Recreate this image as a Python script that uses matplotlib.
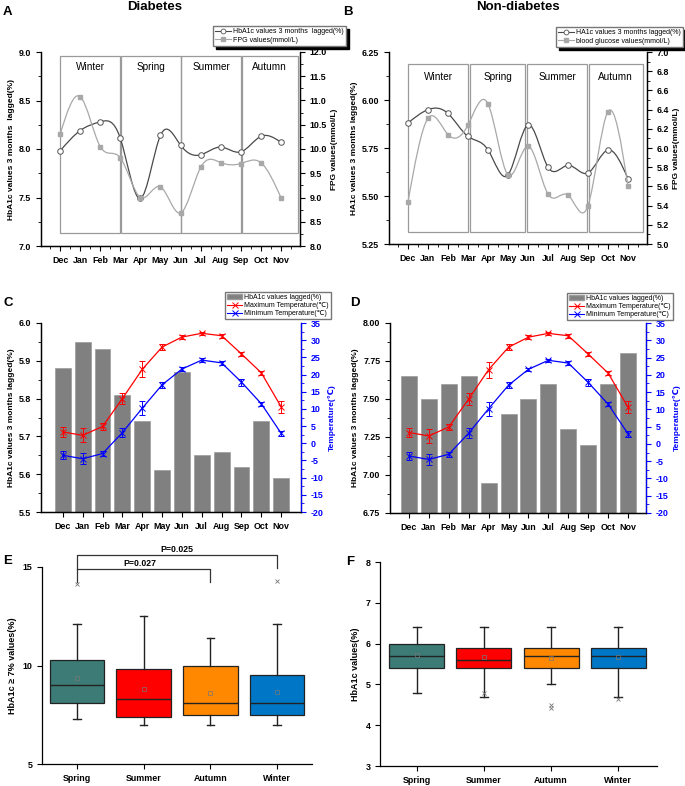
import numpy as np
import matplotlib
matplotlib.use("Agg")
import matplotlib.pyplot as plt
from matplotlib.path import Path
from matplotlib.patches import PathPatch, Rectangle, Patch
from matplotlib.lines import Line2D
from matplotlib.ticker import MultipleLocator

plt.rcParams['font.family'] = ['Liberation Sans', 'DejaVu Sans']
plt.rcParams['axes.linewidth'] = 0.9
plt.rcParams['axes.unicode_minus'] = False

# ---- data ----
months = ['Dec', 'Jan', 'Feb', 'Mar', 'Apr', 'May', 'Jun', 'Jul', 'Aug', 'Sep', 'Oct', 'Nov']
seasons = ['Winter', 'Spring', 'Summer', 'Autumn']

# A: diabetes
hba1c_dm = [7.98, 8.19, 8.28, 8.11, 7.49, 8.14, 8.04, 7.94, 8.02, 7.97, 8.13, 8.07]
fpg_dm = [10.30, 11.08, 10.05, 9.82, 9.00, 9.22, 8.68, 9.62, 9.72, 9.70, 9.72, 9.00]

# B: non-diabetes
hba1c_non = [5.88, 5.95, 5.93, 5.81, 5.74, 5.61, 5.87, 5.65, 5.66, 5.62, 5.74, 5.59]
glu_non = [5.44, 6.31, 6.14, 6.24, 6.46, 5.72, 6.02, 5.52, 5.51, 5.40, 6.38, 5.60]

# C / D: bars + temperature
bars_c = [5.88, 5.95, 5.93, 5.81, 5.74, 5.61, 5.87, 5.65, 5.66, 5.62, 5.74, 5.59]
bars_d = [7.65, 7.50, 7.60, 7.65, 6.95, 7.40, 7.50, 7.60, 7.30, 7.20, 7.60, 7.80]
tmax = [3.3, 2.3, 4.9, 13.0, 21.5, 28.0, 30.9, 32.0, 31.3, 26.0, 20.5, 10.6]
tmax_err = [1.4, 2.0, 0.9, 1.7, 2.3, 0.8, 0.5, 0.5, 0.6, 0.5, 0.5, 1.7]
tmin = [-3.5, -4.5, -3.0, 3.1, 10.2, 17.0, 21.6, 24.2, 23.4, 17.8, 11.5, 2.9]
tmin_err = [1.2, 1.6, 0.8, 1.4, 2.0, 0.8, 0.5, 0.5, 0.6, 1.0, 0.6, 0.8]

# E / F: box plots (whislo, q1, med, q3, whishi, mean, fliers)
box_seasons = ['Spring', 'Summer', 'Autumn', 'Winter']
box_colors = ['#3d7b76', '#ff0000', '#ff8800', '#0077c6']
e_whislo = [7.3, 7.0, 7.0, 7.0]
e_q1 = [8.12, 7.39, 7.5, 7.5]
e_med = [9.0, 8.3, 8.1, 8.1]
e_q3 = [10.3, 9.8, 9.95, 9.5]
e_whishi = [12.12, 12.5, 11.42, 12.12]
e_mean = [9.35, 8.79, 8.58, 8.63]
e_fliers = [[14.12], [], [], [14.31]]

f_whislo = [4.8, 4.7, 5.0, 4.7]
f_q1 = [5.4, 5.4, 5.4, 5.4]
f_med = [5.7, 5.6, 5.7, 5.7]
f_q3 = [6.0, 5.9, 5.9, 5.9]
f_whishi = [6.4, 6.4, 6.4, 6.4]
f_mean = [5.72, 5.68, 5.65, 5.68]
f_fliers = [[], [4.8], [4.5, 4.42], [4.63]]

W, H = 685, 786
fig = plt.figure(figsize=(W / 100, H / 100), dpi=100)


def rect(l, r, t, b):
    return [l / W, 1 - b / H, (r - l) / W, (b - t) / H]


def spline_path(x, y):
    # natural cubic spline through the points, as bezier segments
    x = np.asarray(x, float); y = np.asarray(y, float)
    n = len(x); h = np.diff(x)
    A = np.zeros((n, n)); r = np.zeros(n)
    A[0, 0] = A[-1, -1] = 1
    for i in range(1, n - 1):
        A[i, i - 1] = h[i - 1]; A[i, i] = 2 * (h[i - 1] + h[i]); A[i, i + 1] = h[i]
        r[i] = 6 * ((y[i + 1] - y[i]) / h[i] - (y[i] - y[i - 1]) / h[i - 1])
    M = np.linalg.solve(A, r)
    d = np.empty(n)
    for i in range(n - 1):
        d[i] = (y[i + 1] - y[i]) / h[i] - h[i] * (2 * M[i] + M[i + 1]) / 6
    d[-1] = (y[-1] - y[-2]) / h[-1] + h[-1] * (M[-2] + 2 * M[-1]) / 6
    verts = [(x[0], y[0])]; codes = [Path.MOVETO]
    for i in range(n - 1):
        verts += [(x[i] + h[i] / 3, y[i] + d[i] * h[i] / 3),
                  (x[i + 1] - h[i] / 3, y[i + 1] - d[i + 1] * h[i] / 3),
                  (x[i + 1], y[i + 1])]
        codes += [Path.CURVE4] * 3
    return Path(verts, codes)


tick_kw = dict(labelsize=6.4, width=0.8, direction='out')
lab_size = 6.0


def style_ticks(ax):
    ax.tick_params(which='major', length=3.5, **tick_kw)
    ax.tick_params(which='minor', length=2, width=0.6, direction='out')
    for lab in ax.get_xticklabels() + ax.get_yticklabels():
        lab.set_fontweight('bold')


def season_panel(ax, y1, y2, ylim, ylim2, ymaj, ymin, y2maj, y2min,
                 boxes, box_y, lab_y, ylabel, legend_labels, legend_anchor):
    x = np.arange(len(months))
    ax.set_xlim(-0.95, 11.95)
    ax.set_ylim(*ylim)
    ax2 = ax.twinx()
    ax2.set_ylim(*ylim2)
    for (x0, x1), name in zip(boxes, seasons):
        ax.add_patch(Rectangle((x0, box_y[0]), x1 - x0, box_y[1] - box_y[0],
                               fill=False, ec='#9a9a9a', lw=0.9))
        ax.text((x0 + x1) / 2, lab_y, name, ha='center', va='center', fontsize=7.2)
    ax.add_patch(PathPatch(spline_path(x, y1), fill=False, ec='#4a4a4a', lw=0.9))
    ax.plot(x, y1, 'o', ms=4, mfc='white', mec='#555555', mew=0.7)
    ax2.add_patch(PathPatch(spline_path(x, y2), fill=False, ec='#a8a8a8', lw=0.9))
    ax2.plot(x, y2, 's', ms=3.5, mfc='#a8a8a8', mec='#a8a8a8')
    ax.set_xticks(x, months)
    ax.xaxis.set_minor_locator(MultipleLocator(0.5))
    ax.yaxis.set_major_locator(MultipleLocator(ymaj))
    ax.yaxis.set_minor_locator(MultipleLocator(ymin))
    ax2.yaxis.set_major_locator(MultipleLocator(y2maj))
    ax2.yaxis.set_minor_locator(MultipleLocator(y2min))
    ax.spines['top'].set_visible(False)
    ax2.spines['top'].set_visible(False)
    style_ticks(ax); style_ticks(ax2)
    ax.set_ylabel(ylabel, fontsize=lab_size, fontweight='bold', labelpad=3)
    ax2.set_ylabel('FPG values(mmol/L)', fontsize=lab_size, fontweight='bold', labelpad=3)
    handles = [Line2D([], [], color='#4a4a4a', lw=0.8, marker='o', ms=3.5, mfc='white', mec='#555555', mew=0.6),
               Line2D([], [], color='#a8a8a8', lw=0.8, marker='s', ms=3, mfc='#a8a8a8', mec='#a8a8a8')]
    ax2.legend(handles, legend_labels, loc='upper right', bbox_to_anchor=legend_anchor,
               bbox_transform=fig.transFigure, fontsize=5, frameon=True, fancybox=False,
               edgecolor='#777777', framealpha=1, borderpad=0.35, labelspacing=0.2,
               handlelength=2.2, handletextpad=0.3, borderaxespad=0,
               shadow={'color': 'black', 'alpha': 1})
    return ax2


# ---- A ----
axA = fig.add_axes(rect(41, 300, 52, 246))
season_panel(axA, hba1c_dm, fpg_dm, (7.0, 9.0), (8.0, 12.0), 0.5, 0.25, 0.5, 0.25,
             [(0, 3.0), (3.05, 6.0), (6.03, 9.0), (9.05, 11.83)], (7.13, 8.96), 8.85,
             'HbA1c values 3 months  lagged(%)',
             ['HbA1c values 3 months  lagged(%)', 'FPG values(mmol/L)'],
             (346 / W, 1 - 26 / H))

# ---- B ----
axB = fig.add_axes(rect(389, 647, 52, 244))
season_panel(axB, hba1c_non, glu_non, (5.25, 6.25), (5.0, 7.0), 0.25, 0.125, 0.2, 0.1,
             [(0, 3.0), (3.08, 5.87), (5.95, 8.95), (9.03, 11.75)], (5.31, 6.19), 6.12,
             'HA1c values 3 months lagged(%)',
             ['HA1c values 3 months lagged(%)', 'blood glucose values(mmol/L)'],
             (683 / W, 1 - 27 / H))


# ---- C / D ----
def temp_panel(ax, bars, ylim, ymaj, ymin, xlim, legend_anchor):
    x = np.arange(len(months))
    ax.bar(x, bars, width=0.8, color='#808080', ec='#9a9a9a', lw=0.5)
    ax.set_xlim(*xlim)
    ax.set_ylim(*ylim)
    ax.yaxis.set_major_locator(MultipleLocator(ymaj))
    ax.yaxis.set_minor_locator(MultipleLocator(ymin))
    ax.set_xticks(x, months)
    ax.spines['top'].set_visible(False)
    ax2 = ax.twinx()
    ax2.errorbar(x, tmax, yerr=tmax_err, color='red', marker='x', ms=4, mew=0.7,
                 lw=0.9, elinewidth=0.7, capsize=2, capthick=0.7)
    ax2.errorbar(x, tmin, yerr=tmin_err, color='blue', marker='x', ms=4, mew=0.7,
                 lw=0.9, elinewidth=0.7, capsize=2, capthick=0.7)
    ax2.set_ylim(-20, 35)
    ax2.yaxis.set_major_locator(MultipleLocator(5))
    ax2.yaxis.set_minor_locator(MultipleLocator(2.5))
    ax2.spines['top'].set_visible(False)
    ax2.spines['right'].set_color('blue')
    style_ticks(ax); style_ticks(ax2)
    ax2.tick_params(axis='y', which='both', colors='blue')
    ax.set_ylabel('HbA1c values 3 months lagged(%)', fontsize=lab_size, fontweight='bold', labelpad=3)
    ax2.set_ylabel('Temperature(℃)', fontsize=lab_size, fontweight='bold', color='blue', labelpad=3)
    handles = [Patch(fc='#808080', ec='#9a9a9a'),
               Line2D([], [], color='red', lw=0.8, marker='x', ms=4, mew=0.7),
               Line2D([], [], color='blue', lw=0.8, marker='x', ms=4, mew=0.7)]
    ax2.legend(handles, ['HbA1c values lagged(%)', 'Maximum Temperature(℃)', 'Minimum Temperature(℃)'],
               loc='upper right', bbox_to_anchor=legend_anchor, bbox_transform=fig.transFigure,
               fontsize=5, frameon=True, fancybox=False, edgecolor='#777777', framealpha=1,
               borderpad=0.3, labelspacing=0.15, handlelength=2.2, handletextpad=0.3,
               borderaxespad=0)


axC = fig.add_axes(rect(41, 301, 323, 512))
temp_panel(axC, bars_c, (5.5, 6.0), 0.1, 0.05, (-1.1, 12.0), (331 / W, 1 - 292 / H))
axD = fig.add_axes(rect(390, 646, 323, 513))
temp_panel(axD, bars_d, (6.75, 8.0), 0.25, 0.125, (-0.95, 11.9), (673 / W, 1 - 293 / H))


# ---- E / F ----
def box_panel(ax, whislo, q1, med, q3, whishi, mean, fliers, ylim, xlim, ylabel):
    stats = [dict(whislo=a, q1=b, med=c, q3=d, whishi=e, mean=m, fliers=f)
             for a, b, c, d, e, m, f in zip(whislo, q1, med, q3, whishi, mean, fliers)]
    bp = ax.bxp(stats, positions=[1, 2, 3, 4], widths=0.82, patch_artist=True, showmeans=True,
                boxprops=dict(lw=0.9, ec='#222222'),
                medianprops=dict(color='#222222', lw=1.0),
                whiskerprops=dict(color='#222222', lw=1.0),
                capprops=dict(color='#222222', lw=1.0), capwidths=0.11,
                meanprops=dict(marker='s', ms=2.2, mfc='none', mec='#777777', mew=0.5),
                flierprops=dict(marker='x', ms=2.5, mec='#777777', mew=0.6))
    for patch, c in zip(bp['boxes'], box_colors):
        patch.set_facecolor(c)
    ax.set_ylim(*ylim)
    ax.set_xlim(*xlim)
    ax.set_xticks([1, 2, 3, 4], box_seasons)
    ax.spines['top'].set_visible(False)
    ax.spines['right'].set_visible(False)
    style_ticks(ax)
    ax.set_ylabel(ylabel, fontsize=6.5, fontweight='bold', labelpad=4)


axE = fig.add_axes(rect(42, 312, 567, 764))
box_panel(axE, e_whislo, e_q1, e_med, e_q3, e_whishi, e_mean, e_fliers, (5, 15), (0.475, 4.525),
          'HbA1c ≥ 7% values(%)')
axE.yaxis.set_major_locator(MultipleLocator(5))
axE.plot([1, 1, 4, 4], [14.24, 15.61, 15.61, 14.95], color='#333333', lw=0.9, clip_on=False)
axE.plot([1, 3, 3], [14.9, 14.9, 14.24], color='#333333', lw=0.9, clip_on=False)
axE.text(2.5, 15.66, 'P=0.025', ha='center', va='bottom', fontsize=6.3, fontweight='bold')
axE.text(1.95, 14.95, 'P=0.027', ha='center', va='bottom', fontsize=6.3, fontweight='bold')

axF = fig.add_axes(rect(380, 657, 562, 766))
box_panel(axF, f_whislo, f_q1, f_med, f_q3, f_whishi, f_mean, f_fliers, (3, 8), (0.45, 4.58),
          'HbA1c values(%)')
axF.yaxis.set_major_locator(MultipleLocator(1))

# ---- titles and panel letters ----
fig.text(155 / W, 1 - 7 / H, 'Diabetes', ha='center', va='center', fontsize=9.5, fontweight='bold')
fig.text(518 / W, 1 - 7 / H, 'Non-diabetes', ha='center', va='center', fontsize=9.5, fontweight='bold')
for lab, px, py in [('A', 3, 12), ('B', 343, 12), ('C', 3, 303), ('D', 350, 303),
                    ('E', 3, 561), ('F', 346, 562)]:
    fig.text(px / W, 1 - py / H, lab, ha='left', va='center', fontsize=9.5, fontweight='bold')

fig.savefig('out.png', dpi=100)
